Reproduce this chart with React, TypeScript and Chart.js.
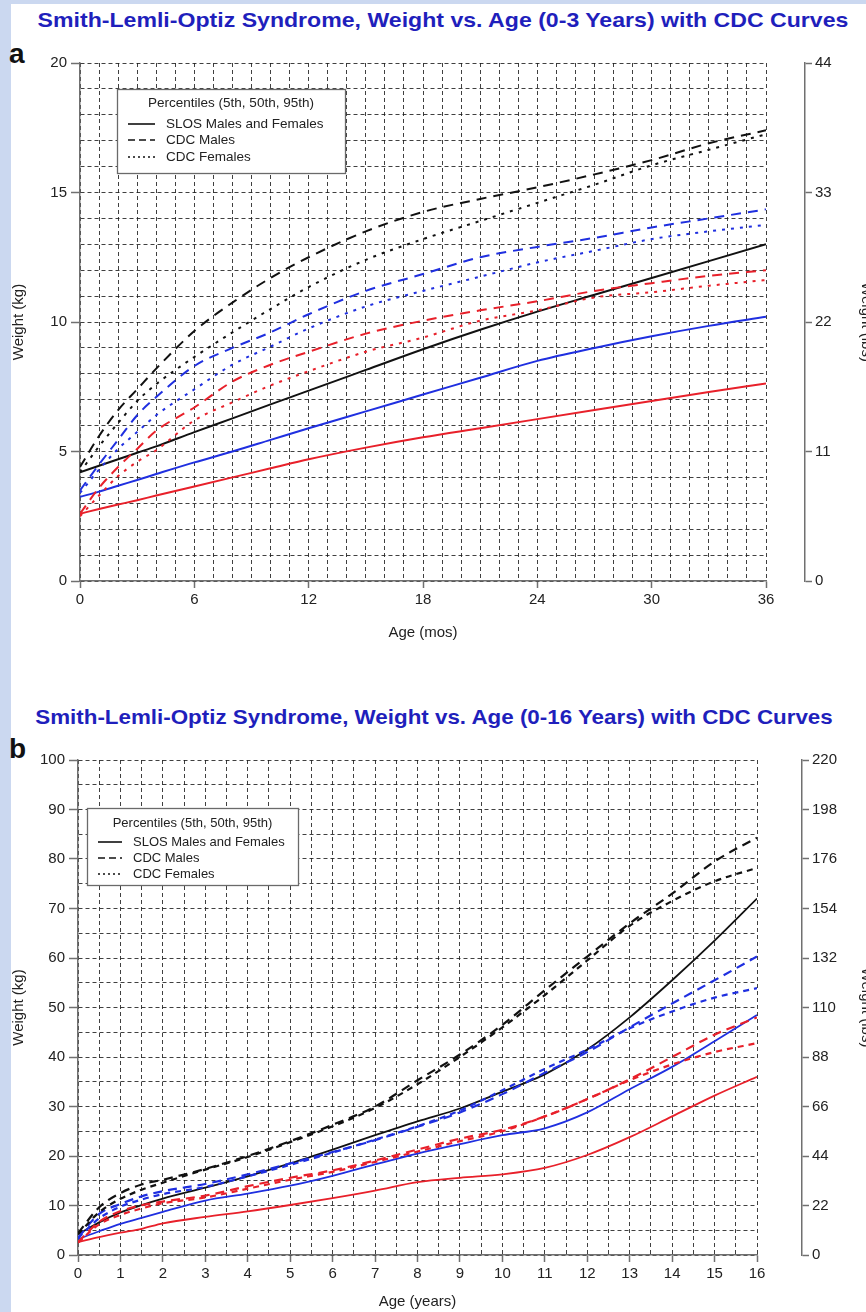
import React, { useEffect, useRef } from "react";
import { Chart, registerables } from "chart.js";
Chart.register(...registerables);

const FONT = '"Liberation Sans", Arial, Helvetica, sans-serif';
const BLACK = "#111111";
const BLUE = "#1f2fe0";
const RED = "#e8202a";
const GRID = "rgba(30,30,30,0.85)";
const AXIS = "#707070";
const TITLE_BLUE = "#1f1fbc";

// ---------- Panel a: 0-36 months ----------
const monthsAges = [0, 1, 2, 3, 4, 6, 8, 10, 12, 15, 18, 21, 24, 27, 30, 33, 36];
const slos95a = [4.2, 4.45, 4.7, 4.95, 5.2, 5.75, 6.28, 6.82, 7.35, 8.15, 8.95, 9.7, 10.4, 11.05, 11.7, 12.35, 13.0];
const slos50a = [3.25, 3.45, 3.68, 3.9, 4.13, 4.58, 5.0, 5.45, 5.9, 6.55, 7.2, 7.85, 8.5, 9.0, 9.45, 9.85, 10.2];
const slos05a = [2.6, 2.78, 2.95, 3.12, 3.3, 3.65, 4.0, 4.35, 4.7, 5.15, 5.55, 5.9, 6.25, 6.6, 6.95, 7.3, 7.63];
const cdcM95a = [4.4, 5.6, 6.6, 7.4, 8.2, 9.65, 10.75, 11.7, 12.5, 13.5, 14.25, 14.75, 15.2, 15.7, 16.25, 16.9, 17.4];
const cdcF95a = [4.2, 5.2, 6.1, 6.95, 7.6, 8.65, 9.6, 10.5, 11.35, 12.4, 13.2, 13.9, 14.6, 15.3, 16.05, 16.65, 17.25];
const cdcM50a = [3.5, 4.5, 5.45, 6.4, 7.1, 8.3, 9.0, 9.6, 10.3, 11.2, 11.85, 12.5, 12.9, 13.25, 13.65, 14.0, 14.35];
const cdcF50a = [3.4, 4.3, 5.1, 5.75, 6.4, 7.4, 8.35, 9.05, 9.75, 10.6, 11.2, 11.75, 12.3, 12.75, 13.2, 13.5, 13.75];
const cdcM05a = [2.6, 3.6, 4.4, 5.1, 5.8, 6.7, 7.7, 8.35, 8.85, 9.55, 10.05, 10.45, 10.8, 11.2, 11.5, 11.78, 12.0];
const cdcF05a = [2.5, 3.3, 4.05, 4.6, 5.05, 6.2, 6.9, 7.55, 8.1, 8.85, 9.4, 10.05, 10.45, 10.95, 11.15, 11.4, 11.62];

// ---------- Panel b: 0-16 years ----------
const yearsAges = [0, 0.5, 1, 1.5, 2, 3, 4, 5, 6, 7, 8, 9, 10, 11, 12, 13, 14, 15, 16];
const slos95b = [4.2, 6.6, 8.6, 10.1, 11.4, 13.6, 15.9, 18.5, 21.3, 24.2, 27.0, 29.6, 33.0, 36.5, 41.5, 48.0, 55.5, 63.5, 72.0];
const slos50b = [3.2, 4.8, 6.3, 7.5, 8.7, 11.0, 12.4, 14.0, 16.0, 18.3, 20.5, 22.4, 24.2, 25.6, 28.8, 33.5, 38.0, 43.2, 48.5];
const slos05b = [2.6, 3.6, 4.5, 5.3, 6.4, 7.7, 8.8, 10.1, 11.5, 13.0, 14.7, 15.6, 16.3, 17.6, 20.2, 23.8, 28.0, 32.2, 36.0];
const cdcM95b = [4.4, 9.65, 12.5, 14.25, 15.2, 17.4, 20.0, 23.0, 26.3, 30.0, 35.3, 40.5, 46.5, 53.5, 60.3, 67.0, 73.0, 79.5, 84.3];
const cdcF95b = [4.2, 8.65, 11.35, 13.2, 14.6, 17.25, 19.8, 22.8, 26.0, 29.7, 34.5, 40.0, 46.0, 52.5, 59.5, 66.5, 71.5, 75.5, 78.2];
const cdcM50b = [3.5, 8.3, 10.3, 11.85, 12.9, 14.35, 16.3, 18.5, 20.8, 23.2, 25.9, 28.8, 32.5, 36.8, 41.0, 46.0, 50.8, 55.5, 60.3];
const cdcF50b = [3.4, 7.4, 9.75, 11.2, 12.3, 13.75, 15.9, 18.2, 20.7, 23.3, 26.0, 29.2, 33.3, 37.6, 41.5, 45.8, 49.2, 52.0, 53.9];
const cdcM05b = [2.6, 6.7, 8.85, 10.05, 10.8, 12.0, 13.9, 15.6, 17.1, 19.1, 21.3, 23.5, 25.3, 28.0, 31.5, 35.5, 40.0, 44.5, 48.0];
const cdcF05b = [2.5, 6.2, 8.1, 9.4, 10.45, 11.62, 13.4, 15.2, 16.8, 18.8, 20.9, 23.0, 25.0, 28.0, 31.5, 35.3, 38.5, 41.0, 42.8];

// ---------- Text ----------
const titleA = "Smith-Lemli-Optiz Syndrome, Weight vs. Age (0-3 Years) with CDC Curves";
const titleB = "Smith-Lemli-Optiz Syndrome, Weight vs. Age (0-16 Years) with CDC Curves";
const legendTitle = "Percentiles (5th, 50th, 95th)";
const legendLabels = ["SLOS Males and Females", "CDC Males", "CDC Females"];
const xTitleA = "Age (mos)";
const xTitleB = "Age (years)";
const yTitle = "Weight (kg)";
const y2Title = "Weight (lbs)";

type Series = { values: number[]; color: string; kind: number };

const seriesA: Series[] = [
  { values: cdcM95a, color: BLACK, kind: 1 },
  { values: cdcF95a, color: BLACK, kind: 2 },
  { values: cdcM50a, color: BLUE, kind: 1 },
  { values: cdcF50a, color: BLUE, kind: 2 },
  { values: cdcM05a, color: RED, kind: 1 },
  { values: cdcF05a, color: RED, kind: 2 },
  { values: slos95a, color: BLACK, kind: 0 },
  { values: slos50a, color: BLUE, kind: 0 },
  { values: slos05a, color: RED, kind: 0 },
];
const seriesB: Series[] = [
  { values: cdcM95b, color: BLACK, kind: 1 },
  { values: cdcF95b, color: BLACK, kind: 2 },
  { values: cdcM50b, color: BLUE, kind: 1 },
  { values: cdcF50b, color: BLUE, kind: 2 },
  { values: cdcM05b, color: RED, kind: 1 },
  { values: cdcF05b, color: RED, kind: 2 },
  { values: slos95b, color: BLACK, kind: 0 },
  { values: slos50b, color: BLUE, kind: 0 },
  { values: slos05b, color: RED, kind: 0 },
];

type LegendCfg = {
  dx: number; dy: number; w: number; h: number; titleY: number;
  itemY: number[]; lineX: number[]; textX: number; fontSize: number;
};

function makeLegendPlugin(cfg: LegendCfg) {
  return {
    id: "legendBox",
    afterDraw(chart: any) {
      const { ctx, chartArea } = chart;
      const x0 = Math.round(chartArea.left + cfg.dx);
      const y0 = Math.round(chartArea.top + cfg.dy);
      const dashes = [[], [7, 4], [2, 3]];
      ctx.save();
      ctx.fillStyle = "#ffffff";
      ctx.fillRect(x0, y0, cfg.w, cfg.h);
      ctx.strokeStyle = "#6a6a6a";
      ctx.lineWidth = 1.3;
      ctx.setLineDash([]);
      ctx.strokeRect(x0 + 0.5, y0 + 0.5, cfg.w, cfg.h);
      ctx.fillStyle = "#222";
      ctx.font = `${cfg.fontSize}px ${FONT}`;
      ctx.textBaseline = "middle";
      ctx.textAlign = "center";
      ctx.fillText(legendTitle, x0 + cfg.w / 2, y0 + cfg.titleY);
      ctx.textAlign = "left";
      legendLabels.forEach((lab, i) => {
        const y = y0 + cfg.itemY[i];
        ctx.beginPath();
        ctx.setLineDash(dashes[i]);
        ctx.strokeStyle = "#111";
        ctx.lineWidth = 1.6;
        ctx.moveTo(x0 + cfg.lineX[0], y);
        ctx.lineTo(x0 + cfg.lineX[1], y);
        ctx.stroke();
        ctx.setLineDash([]);
        ctx.fillText(lab, x0 + cfg.textX, y);
      });
      ctx.restore();
    },
  };
}

type PanelProps = {
  top: number; height: number; padTop: number; xHeight: number;
  ages: number[]; series: Series[];
  xMax: number; xStep: number; xMajor: number; xTitle: string;
  yMax: number; yStep: number; yMajor: number;
  y2Max: number; y2Step: number;
  leftW: number; gapW: number; y2W: number;
  lineW: number; cdcW: number; dashM: number[]; dashF: number[];
  legend: LegendCfg;
};

const CANVAS_W = 880;

function isMult(v: number, m: number) {
  const r = v / m;
  return Math.abs(r - Math.round(r)) < 1e-6;
}

function Panel(p: PanelProps) {
  const ref = useRef<HTMLCanvasElement | null>(null);
  useEffect(() => {
    if (!ref.current) return;
    const tickFont = { family: FONT, size: 15 };
    const datasets = p.series.map((s) => ({
      data: p.ages.map((a, i) => ({ x: a, y: s.values[i] })),
      borderColor: s.color,
      borderWidth: s.kind === 0 ? p.lineW : p.cdcW,
      borderDash: s.kind === 0 ? [] : s.kind === 1 ? p.dashM : p.dashF,
      pointRadius: 0,
      fill: false,
      cubicInterpolationMode: "monotone" as const,
      xAxisID: "x",
      yAxisID: "y",
    }));
    const chart = new Chart(ref.current, {
      type: "line",
      data: { datasets },
      plugins: [makeLegendPlugin(p.legend)],
      options: {
        animation: false,
        responsive: false,
        layout: { padding: { top: p.padTop, right: 5, bottom: 0, left: 0 } },
        plugins: { legend: { display: false }, tooltip: { enabled: false } },
        scales: {
          x: {
            type: "linear",
            position: "bottom",
            min: 0,
            max: p.xMax,
            afterFit: (s: any) => { s.height = p.xHeight; },
            ticks: {
              stepSize: p.xStep,
              autoSkip: false,
              maxRotation: 0,
              padding: 3,
              color: "#222",
              font: tickFont,
              callback: (v: any) => (isMult(Number(v), p.xMajor) ? String(v) : ""),
            },
            grid: {
              color: GRID,
              lineWidth: 1,
              tickLength: 7,
              tickWidth: 1.5,
              tickColor: (c: any) => (c.tick && isMult(c.tick.value, p.xMajor) ? AXIS : "rgba(0,0,0,0)"),
            },
            border: { color: AXIS, width: 1.5, dash: [4, 3] },
            title: { display: true, text: p.xTitle, color: "#222", font: { family: FONT, size: 15 }, padding: { top: 0, bottom: 1 } },
          },
          y: {
            type: "linear",
            position: "left",
            min: 0,
            max: p.yMax,
            afterFit: (s: any) => { s.width = p.leftW; },
            ticks: {
              stepSize: p.yStep,
              autoSkip: false,
              padding: 4,
              color: "#222",
              font: tickFont,
              callback: (v: any) => (isMult(Number(v), p.yMajor) ? String(v) : ""),
            },
            grid: {
              color: GRID,
              lineWidth: 1,
              tickLength: 9,
              tickWidth: 1.5,
              tickColor: (c: any) => (c.tick && isMult(c.tick.value, p.yMajor) ? AXIS : "rgba(0,0,0,0)"),
            },
            border: { color: AXIS, width: 1.5, dash: [4, 3] },
            title: { display: true, text: yTitle, color: "#222", font: { family: FONT, size: 15 }, padding: { top: 10, bottom: 0 } },
          },
          gap: {
            type: "linear",
            position: "right",
            weight: 1,
            display: true,
            grid: { display: false, drawTicks: false },
            border: { display: false },
            ticks: { display: false },
            afterFit: (s: any) => { s.width = p.gapW; },
          },
          y2: {
            type: "linear",
            position: "right",
            weight: 2,
            min: 0,
            max: p.y2Max,
            afterFit: (s: any) => { s.width = p.y2W; },
            ticks: { stepSize: p.y2Step, autoSkip: false, padding: 3, color: "#222", font: tickFont },
            grid: { drawOnChartArea: false, tickLength: 7, tickWidth: 1.5, tickColor: AXIS },
            border: { color: AXIS, width: 1.5 },
            title: { display: true, text: y2Title, color: "#222", font: { family: FONT, size: 15 }, padding: { top: 0, bottom: 0 } },
          },
        },
      } as any,
    });
    return () => chart.destroy();
  }, []);
  return (
    <canvas
      ref={ref}
      width={CANVAS_W}
      height={p.height}
      style={{ position: "absolute", left: 0, top: p.top, width: CANVAS_W, height: p.height }}
    />
  );
}

const titleStyle: React.CSSProperties = {
  position: "absolute",
  width: 900,
  textAlign: "center",
  fontFamily: FONT,
  fontWeight: "bold",
  fontSize: 21,
  color: TITLE_BLUE,
  lineHeight: "24px",
  whiteSpace: "nowrap",
};
const letterStyle: React.CSSProperties = {
  position: "absolute",
  left: 9,
  fontFamily: FONT,
  fontWeight: "bold",
  fontSize: 28,
  color: "#111",
  lineHeight: "28px",
};

export default function App() {
  return (
    <div style={{ position: "absolute", left: 0, top: 0, width: 866, height: 1312, overflow: "hidden", background: "#cbd8f0" }}>
      <div style={{ position: "absolute", left: 11, top: 4, right: 0, bottom: 0, background: "#ffffff" }} />
      <div style={{ ...titleStyle, left: 443 - 450, top: 8, transform: "scaleX(1.10)" }}>{titleA}</div>
      <div style={{ ...letterStyle, top: 40 }}>a</div>
      <Panel
        top={40} height={603} padTop={23} xHeight={62}
        ages={monthsAges} series={seriesA}
        xMax={36} xStep={1} xMajor={6} xTitle={xTitleA}
        yMax={20} yStep={1} yMajor={5}
        y2Max={44} y2Step={11}
        leftW={80} gapW={39} y2W={70}
        lineW={2} cdcW={2} dashM={[10, 7]} dashF={[3, 6]}
        legend={{ dx: 37, dy: 26, w: 228, h: 84, titleY: 14, itemY: [35, 51, 68], lineX: [11, 38], textX: 49, fontSize: 13.5 }}
      />
      <div style={{ ...titleStyle, left: 434 - 450, top: 705, transform: "scaleX(1.065)" }}>{titleB}</div>
      <div style={{ ...letterStyle, top: 735 }}>b</div>
      <Panel
        top={740} height={572} padTop={20} xHeight={57}
        ages={yearsAges} series={seriesB}
        xMax={16} xStep={0.5} xMajor={1} xTitle={xTitleB}
        yMax={100} yStep={5} yMajor={10}
        y2Max={220} y2Step={22}
        leftW={78} gapW={45} y2W={73}
        lineW={1.8} cdcW={2.2} dashM={[9, 6]} dashF={[6, 5]}
        legend={{ dx: 9, dy: 48, w: 211, h: 77, titleY: 15, itemY: [34, 50, 66], lineX: [11, 35], textX: 46, fontSize: 13 }}
      />
    </div>
  );
}
